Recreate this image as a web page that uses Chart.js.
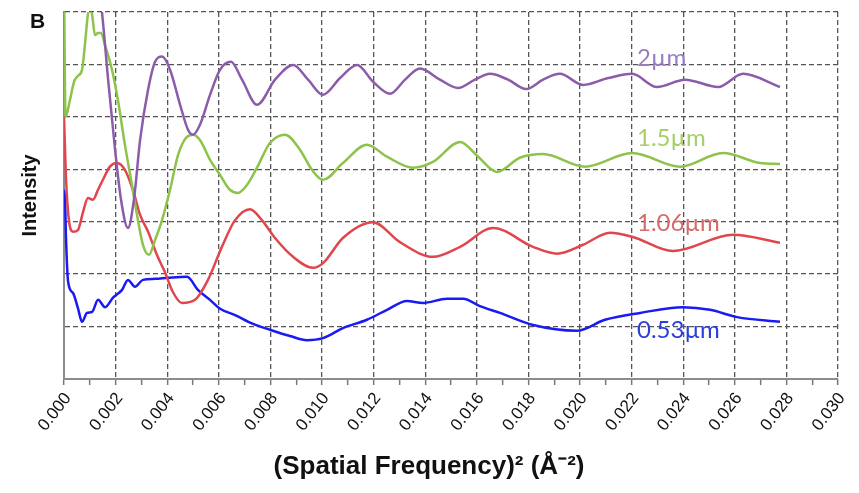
<!DOCTYPE html>
<html><head><meta charset="utf-8">
<script src="https://cdn.jsdelivr.net/npm/chart.js@4/dist/chart.umd.min.js"></script>
<style>html,body{margin:0;padding:0;background:#fff}#wrap{width:859px;height:493px}</style>
</head><body><div id="wrap"><canvas id="c" width="859" height="493"></canvas></div>
<script>
// ---- data ----
const seriesNames = ['2\u00B5m', '1.5\u00B5m', '1.06\u00B5m', '0.53\u00B5m'];
const xTitle = '(Spatial Frequency)\u00B2 (\u00C5\u207B\u00B2)';
const yTitle = 'Intensity';
const panelLetter = 'B';

const purpleX = [0.00100,0.00147,0.00171,0.00198,0.00221,0.00248,0.00271,0.00295,0.00326,0.00353,0.00380,0.00411,0.00450,0.00481,0.00500,0.00527,0.00566,0.00605,0.00647,0.00690,0.00748,0.00818,0.00888,0.00946,0.01004,0.01070,0.01136,0.01198,0.01264,0.01322,0.01380,0.01457,0.01527,0.01593,0.01651,0.01721,0.01791,0.01857,0.01922,0.02012,0.02109,0.02202,0.02298,0.02407,0.02535,0.02632,0.02775];
const purpleY = [8.6,7.0,5.71,4.37,3.42,2.88,3.42,4.56,5.52,6.05,6.15,5.90,5.23,4.75,4.66,4.85,5.42,5.90,6.05,5.71,5.23,5.71,5.99,5.71,5.42,5.74,5.99,5.67,5.44,5.71,5.92,5.71,5.55,5.71,5.82,5.71,5.53,5.71,5.82,5.61,5.74,5.82,5.57,5.71,5.57,5.82,5.57];

const greenX = [0,0.00006,0.00023,0.00039,0.00054,0.00070,0.00081,0.00093,0.00101,0.00109,0.00120,0.00132,0.00143,0.00159,0.00186,0.00209,0.00236,0.00260,0.00283,0.00306,0.00329,0.00353,0.00380,0.00411,0.00442,0.00473,0.00500,0.00527,0.00566,0.00605,0.00643,0.00674,0.00709,0.00748,0.00798,0.00857,0.00915,0.00961,0.01004,0.01081,0.01174,0.01252,0.01353,0.01430,0.01535,0.01605,0.01678,0.01767,0.01857,0.02019,0.02202,0.02388,0.02554,0.02698,0.02775];
const greenY = [7.62,5.00,5.32,5.67,5.78,5.90,6.37,6.97,7.12,6.95,6.56,6.60,6.60,6.37,5.90,5.32,4.47,3.80,3.13,2.56,2.37,2.65,3.03,3.61,4.27,4.60,4.66,4.56,4.18,3.89,3.61,3.55,3.70,4.03,4.50,4.66,4.37,3.99,3.80,4.12,4.47,4.24,4.03,4.14,4.52,4.24,3.95,4.22,4.29,4.05,4.31,4.05,4.31,4.12,4.10];

const redX = [0,0.00004,0.00008,0.00019,0.00035,0.00054,0.00074,0.00093,0.00112,0.00132,0.00151,0.00178,0.00205,0.00236,0.00267,0.00295,0.00326,0.00360,0.00391,0.00422,0.00457,0.00508,0.00558,0.00612,0.00663,0.00721,0.00767,0.00818,0.00888,0.00965,0.01004,0.01081,0.01198,0.01302,0.01430,0.01535,0.01663,0.01818,0.01911,0.02012,0.02116,0.02205,0.02360,0.02593,0.02775];
const redY = [5.00,4.37,3.80,3.03,2.81,2.84,3.19,3.45,3.42,3.61,3.80,4.05,4.12,3.99,3.61,3.13,2.81,2.37,2.04,1.66,1.45,1.51,1.89,2.52,3.03,3.24,3.03,2.69,2.33,2.12,2.21,2.69,2.99,2.61,2.33,2.52,2.88,2.52,2.39,2.56,2.79,2.71,2.44,2.75,2.60];

const blueX = [0,0.00004,0.00008,0.00016,0.00035,0.00054,0.00070,0.00089,0.00109,0.00132,0.00159,0.00190,0.00225,0.00248,0.00275,0.00306,0.00353,0.00403,0.00477,0.00519,0.00566,0.00605,0.00663,0.00733,0.00798,0.00876,0.00942,0.01004,0.01081,0.01174,0.01252,0.01329,0.01391,0.01484,0.01547,0.01612,0.01690,0.01818,0.01988,0.02097,0.02233,0.02399,0.02504,0.02609,0.02775];
const blueY = [3.61,3.42,2.65,1.85,1.64,1.35,1.09,1.26,1.28,1.51,1.37,1.55,1.70,1.89,1.76,1.89,1.91,1.93,1.95,1.70,1.51,1.34,1.22,1.05,0.94,0.82,0.74,0.78,0.97,1.13,1.32,1.49,1.45,1.53,1.53,1.39,1.26,1.03,0.92,1.13,1.26,1.37,1.32,1.18,1.09];

const lineColors = ['#8b5ca8', '#8dc34a', '#e0464c', '#1a1af2'];
const labelColors = ['#9a7cc2', '#a6cf6a', '#d46c6c', '#2c3fd8'];

const zip = (xs, ys) => xs.map((x, i) => ({x: x, y: ys[i]}));
const seriesData = [zip(purpleX, purpleY), zip(greenX, greenY), zip(redX, redY), zip(blueX, blueY)];

const labelPlugin = {
  id: 'seriesLabels',
  afterDatasetsDraw(chart, args, opts) {
    const {ctx, scales: {x, y}} = chart;
    ctx.save();
    ctx.textBaseline = 'alphabetic';
    ctx.textAlign = 'left';
    ctx.fillStyle = '#111';
    ctx.font = 'bold 21px "Liberation Sans", Arial, sans-serif';
    ctx.fillText(panelLetter, 30, 28);
    ctx.font = '24px Lato, sans-serif';
    seriesNames.forEach((name, i) => {
      ctx.fillStyle = labelColors[i];
      ctx.fillText(name, x.getPixelForValue(opts.atX), y.getPixelForValue(opts.atY[i]));
    });
    // x-axis title
    ctx.fillStyle = '#111';
    ctx.textAlign = 'center';
    ctx.textBaseline = 'middle';
    ctx.font = 'bold 26px "Liberation Sans", Arial, sans-serif';
    ctx.fillText(xTitle, opts.titleCx, opts.titleCy);
    ctx.restore();
  }
};

new Chart(document.getElementById('c'), {
  type: 'line',
  data: {
    datasets: seriesNames.map((n, i) => ({
      label: n,
      data: seriesData[i],
      borderColor: lineColors[i],
      backgroundColor: lineColors[i],
      borderWidth: 2.5,
      pointRadius: 0,
      fill: false,
      cubicInterpolationMode: 'monotone'
    }))
  },
  options: {
    responsive: false,
    animation: false,
    devicePixelRatio: 1,
    layout: {padding: {left: 0, right: 21, top: 12, bottom: 0}},
    plugins: {
      legend: {display: false},
      tooltip: {enabled: false},
      seriesLabels: {atX: 0.02221, atY: [5.97, 4.45, 2.82, 0.78], titleCx: 429, titleCy: 467}
    },
    scales: {
      x: {
        type: 'linear', min: 0, max: 0.03,
        afterFit(scale) { scale.height = 114; },
        ticks: {
          stepSize: 0.001, autoSkip: false, minRotation: 52, maxRotation: 52,
          color: '#111', padding: 4, labelOffset: 4,
          font: {family: '"Liberation Sans", Arial, sans-serif', size: 17},
          callback: (v, i) => (i % 2 === 0 ? Number(v).toFixed(3) : '')
        },
        grid: {
          color: (c) => (c.index % 2 === 0 ? '#555' : 'rgba(0,0,0,0)'),
          lineWidth: 1.3, tickColor: '#777', tickLength: 6, tickWidth: 1.5
        },
        border: {display: true, color: '#8c8c8c', width: 2, dash: [5, 3]},
        title: {display: false}
      },
      y: {
        min: 0, max: 7,
        afterFit(scale) { scale.width = 64; },
        ticks: {display: false, stepSize: 1},
        grid: {color: '#555', lineWidth: 1.3, drawTicks: false},
        border: {display: true, color: '#8c8c8c', width: 2, dash: [5, 3]},
        title: {
          display: true, text: yTitle, color: '#111',
          font: {family: '"Liberation Sans", Arial, sans-serif', size: 20, weight: 'bold'},
          padding: {top: 18, bottom: 0}
        }
      }
    }
  },
  plugins: [labelPlugin]
});
</script></body></html>
